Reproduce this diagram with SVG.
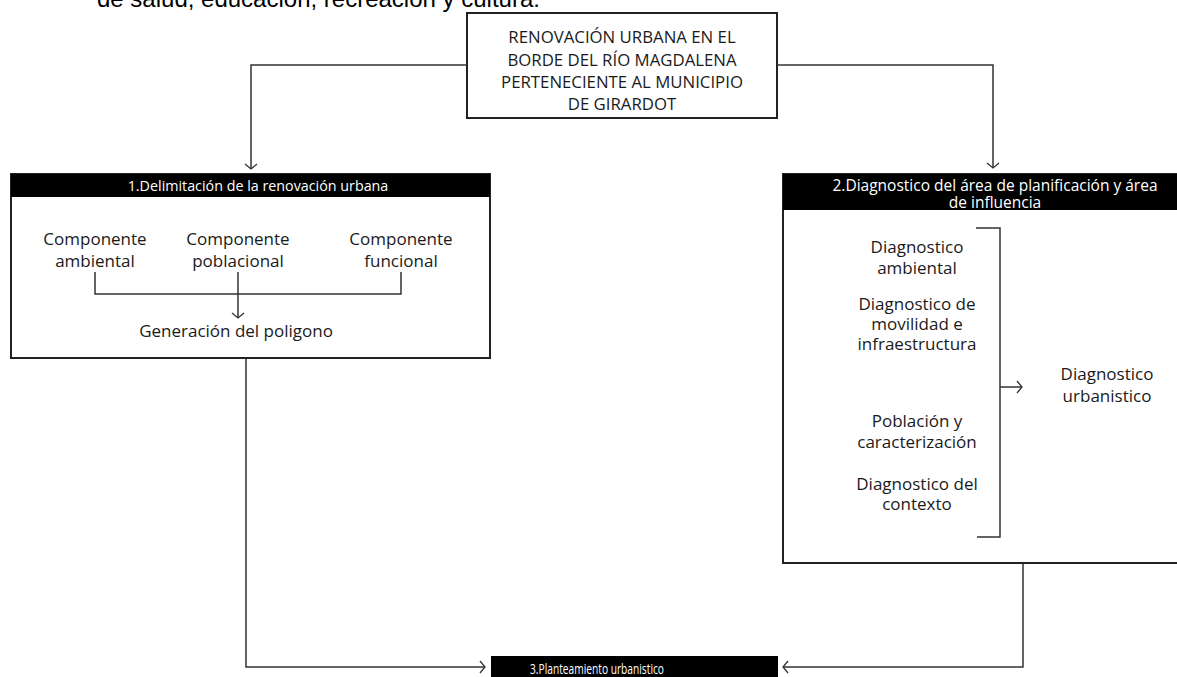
<svg xmlns="http://www.w3.org/2000/svg" width="1177" height="677" viewBox="0 0 1177 677">
<defs>
<style>
.t{font-family:"Open Sans","Noto Sans",sans-serif;font-size:17px;fill:#1a1a1a;text-anchor:middle}
.h{font-family:"Open Sans","Noto Sans",sans-serif;font-size:14.3px;fill:#ffffff;text-anchor:middle}
.h2{font-family:"Open Sans","Noto Sans",sans-serif;font-size:15.5px;fill:#ffffff;text-anchor:middle}
.h3{font-family:"Open Sans","Noto Sans",sans-serif;font-size:15px;fill:#ffffff;text-anchor:middle}
.cap{font-family:"Open Sans","Noto Sans",sans-serif;font-size:16.8px;fill:#1a1a1a;text-anchor:middle}
.box{fill:#ffffff;stroke:#222;stroke-width:2}
.hdr{fill:#000}
.ln{fill:none;stroke:#333;stroke-width:1.5}
</style>
<marker id="ah" viewBox="-7 -7 8 14" markerWidth="8" markerHeight="14" refX="0" refY="0" orient="auto" markerUnits="userSpaceOnUse">
<path d="M-5,-6 L0,0 L-5,6" fill="none" stroke="#333" stroke-width="1.3"/>
</marker>
</defs>
<rect width="1177" height="677" fill="#fff"/>
<text x="97" y="7" style="font-family:'Liberation Sans',Arial,sans-serif;font-size:24px;fill:#000">de salud, educación, recreación y cultura.</text>

<g id="top">
<rect class="box" x="467" y="13" width="310" height="105"/>
<text class="cap" x="622" y="43">RENOVACIÓN URBANA EN EL</text>
<text class="cap" x="622" y="66">BORDE DEL RÍO MAGDALENA</text>
<text class="cap" x="622" y="88">PERTENECIENTE AL MUNICIPIO</text>
<text class="cap" x="622" y="110">DE GIRARDOT</text>
</g>

<g id="n1">
<rect class="box" x="11" y="174" width="479" height="184"/>
<rect class="hdr" x="11" y="174" width="479" height="23"/>
<text class="h" x="258" y="191">1.Delimitación de la renovación urbana</text>
<text class="t" x="95" y="245">Componente</text>
<text class="t" x="95" y="267">ambiental</text>
<text class="t" x="238" y="245">Componente</text>
<text class="t" x="238" y="267">poblacional</text>
<text class="t" x="401" y="245">Componente</text>
<text class="t" x="401" y="267">funcional</text>
<text class="t" x="236" y="337">Generación del poligono</text>
</g>

<g id="n2">
<rect class="box" x="783" y="174" width="396" height="389"/>
<rect class="hdr" x="783" y="174" width="396" height="36"/>
<text class="h2" x="995" y="191">2.Diagnostico del área de planificación y área</text>
<text class="h2" x="995" y="207.5">de influencia</text>
<text class="t" x="917" y="253">Diagnostico</text>
<text class="t" x="917" y="274">ambiental</text>
<text class="t" x="917" y="310">Diagnostico de</text>
<text class="t" x="917" y="330">movilidad e</text>
<text class="t" x="917" y="350">infraestructura</text>
<text class="t" x="917" y="427">Población y</text>
<text class="t" x="917" y="448">caracterización</text>
<text class="t" x="917" y="490">Diagnostico del</text>
<text class="t" x="917" y="510">contexto</text>
<text class="t" x="1107" y="380">Diagnostico</text>
<text class="t" x="1107" y="402">urbanistico</text>
</g>

<g id="n3">
<rect class="hdr" x="491" y="656" width="287" height="25"/>
<text class="h3" x="597" y="674" textLength="134" lengthAdjust="spacingAndGlyphs">3.Planteamiento urbanistico</text>
</g>

<g id="connectors">
<polyline class="ln" points="467,65 251,65 251,169" marker-end="url(#ah)"/>
<polyline class="ln" points="777,65 993,65 993,168" marker-end="url(#ah)"/>
<polyline class="ln" points="95,272 95,294 401,294 401,272"/>
<line class="ln" x1="238" y1="272" x2="238" y2="318" marker-end="url(#ah)"/>
<polyline class="ln" points="976,228 1000,228 1000,537 977,537"/>
<line class="ln" x1="1000" y1="387" x2="1022" y2="387" marker-end="url(#ah)"/>
<polyline class="ln" points="246,359 246,667 485,667" marker-end="url(#ah)"/>
<polyline class="ln" points="1023,564 1023,667 783,667" marker-end="url(#ah)"/>
</g>
</svg>
